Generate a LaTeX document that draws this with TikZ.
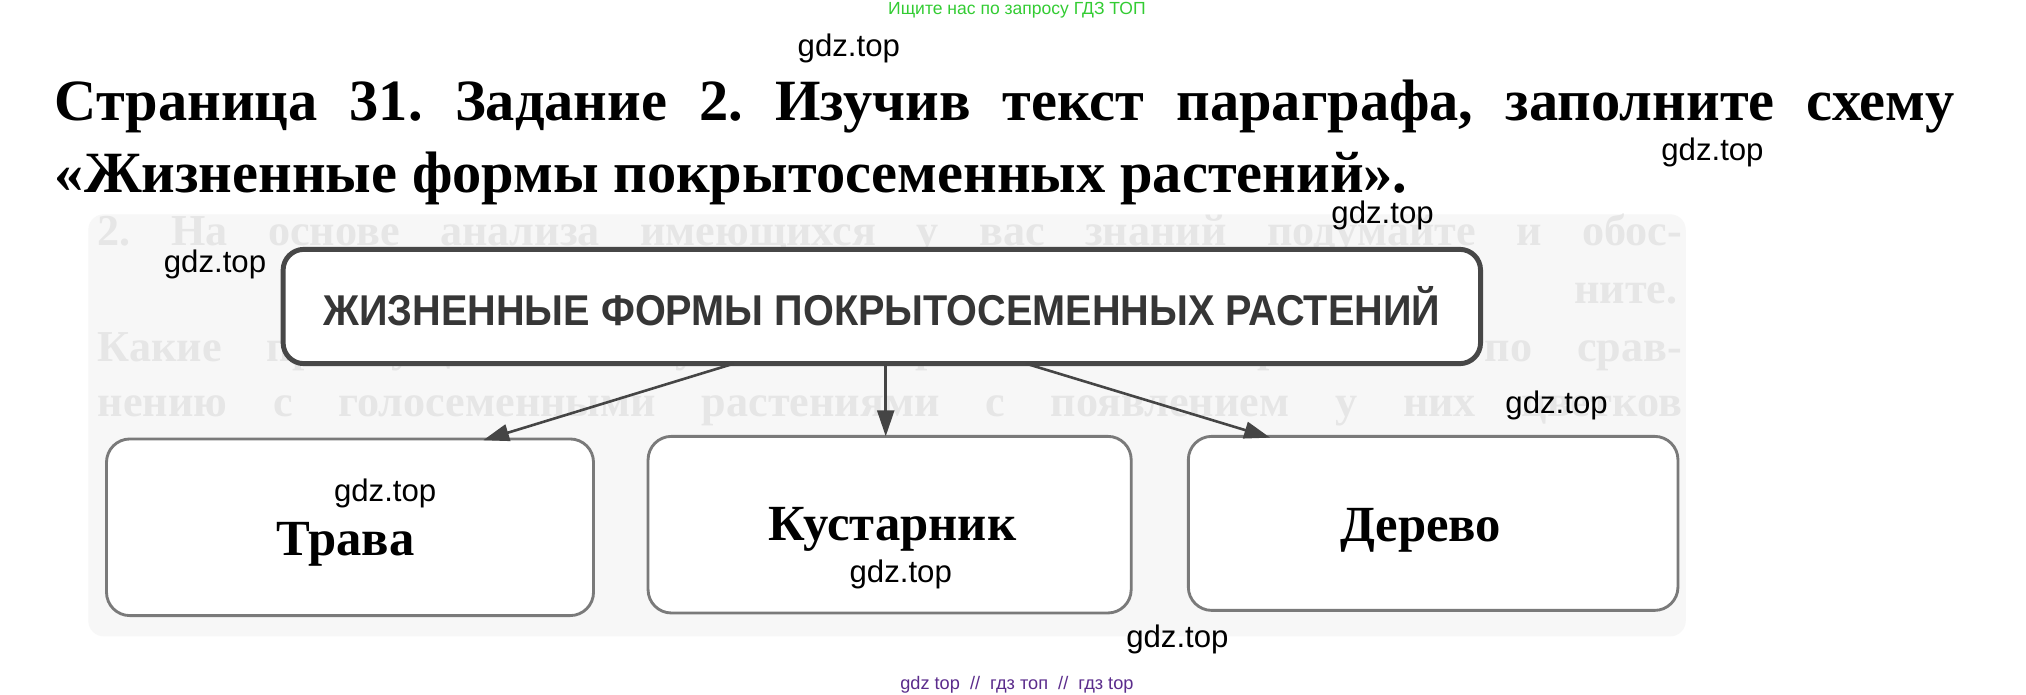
\documentclass[tikz,border=0pt]{standalone}
\usepackage{fontspec}
\setmainfont{Liberation Serif}
\newfontfamily\wmfont{Liberation Sans}
\usetikzlibrary{arrows.meta}
\definecolor{topline}{HTML}{474747}
\definecolor{leafline}{HTML}{7A7A7A}
\definecolor{arrowcol}{HTML}{454545}
\definecolor{toptext}{HTML}{363636}
\definecolor{wmgreen}{HTML}{33CC33}
\definecolor{wmpurple}{HTML}{5B2C8C}
\definecolor{scanbg}{HTML}{F7F7F7}
\definecolor{scantext}{HTML}{E6E6E6}
\begin{document}
\frenchspacing
\begin{tikzpicture}[x=1pt,y=-1pt,
  wm/.style={font=\wmfont\fontsize{24}{24}\selectfont, anchor=west, inner sep=0pt, text=black},
  titleline/.style={font=\bfseries\fontsize{45}{45}\selectfont, anchor=base west, inner sep=0pt},
  scanline/.style={font=\bfseries\fontsize{34}{34}\selectfont, anchor=base west, inner sep=0pt, text=scantext},
  topbox/.style={draw=topline, line width=3.8pt, rounded corners=16pt, fill=white,
    minimum width=922pt, minimum height=88pt, inner sep=0pt},
  leafbox/.style={draw=leafline, line width=2.2pt, rounded corners=18pt, fill=white, inner sep=0pt},
  leaflabel/.style={font=\bfseries\fontsize{39}{39}\selectfont, anchor=base, inner sep=0pt},
  conn/.style={draw=arrowcol, line width=2pt, -{Triangle[length=20pt,width=13pt]}}
]
\useasboundingbox (0,0) rectangle (1560,535);
\fill[white] (0,0) rectangle (1560,535);

% faint scanned page
\fill[scanbg, rounded corners=12pt] (68,165) rectangle (1298,490);
\node[scanline] (s1) at (75,189) {\makebox[1220pt][s]{2. На основе анализа имеющихся у вас знаний подумайте и обос-}};
\node[scanline] (s2) at (1212,234) {ните.};
\node[scanline] (s3) at (75,278) {\makebox[1220pt][s]{Какие преимущества получили покрытосеменные растения по срав-}};
\node[scanline] (s4) at (75,321) {\makebox[1220pt][s]{нению с голосеменными растениями с появлением у них цветков}};
\node[scanline] (s5) at (1105,363) {и плодов?};

% header texts
\node[font=\wmfont\fontsize{13.5}{13.5}\selectfont, text=wmgreen, inner sep=0pt] (hdr) at (783,8) {Ищите нас по запросу ГДЗ ТОП};
\node[titleline] (t1) at (42,93) {\makebox[1463pt][s]{Страница 31. Задание 2. Изучив текст параграфа, заполните схему}};
\node[titleline] (t2) at (42,148) {«Жизненные формы покрытосеменных растений».};

% diagram
\node[topbox] (top) at (679,236) {\textcolor{toptext}{\resizebox{860pt}{!}{\scalebox{0.92}[1]{\wmfont\bfseries\fontsize{33}{33}\selectfont ЖИЗНЕННЫЕ ФОРМЫ ПОКРЫТОСЕМЕННЫХ РАСТЕНИЙ}}}};
\node[leafbox, minimum width=375pt, minimum height=136pt] (b1) at (269.5,406) {};
\node[leafbox, minimum width=372pt, minimum height=136pt] (b2) at (685,404) {};
\node[leafbox, minimum width=377pt, minimum height=134pt] (b3) at (1103.5,403) {};

\coordinate (a1) at (565,280);
\coordinate (a2) at (682,280);
\coordinate (a3) at (790,280);
\coordinate (e1) at (372,339);
\coordinate (e2) at (682,336);
\coordinate (e3) at (978,337);
\draw[conn] (a1) -- (e1);
\draw[conn] (a2) -- (e2);
\draw[conn] (a3) -- (e3);

\node[leaflabel] (l1) at (266,428) {Трава};
\node[leaflabel] (l2) at (687,416) {Кустарник};
\node[leaflabel] (l3) at (1094,417) {Дерево};

% watermarks
\node[wm] (w1) at (614,37) {gdz.top};
\node[wm] (w2) at (1279,117) {gdz.top};
\node[wm] (w3) at (1025,166) {gdz.top};
\node[wm] (w4) at (126,204) {gdz.top};
\node[wm] (w5) at (1159,312) {gdz.top};
\node[wm] (w6) at (257,380) {gdz.top};
\node[wm] (w7) at (654,442) {gdz.top};
\node[wm] (w8) at (867,492) {gdz.top};
\node[font=\wmfont\fontsize{14}{14}\selectfont, text=wmpurple, inner sep=0pt] (ftr) at (783,527) {gdz top \ // \ гдз топ \ // \ гдз top};
\end{tikzpicture}
\end{document}
